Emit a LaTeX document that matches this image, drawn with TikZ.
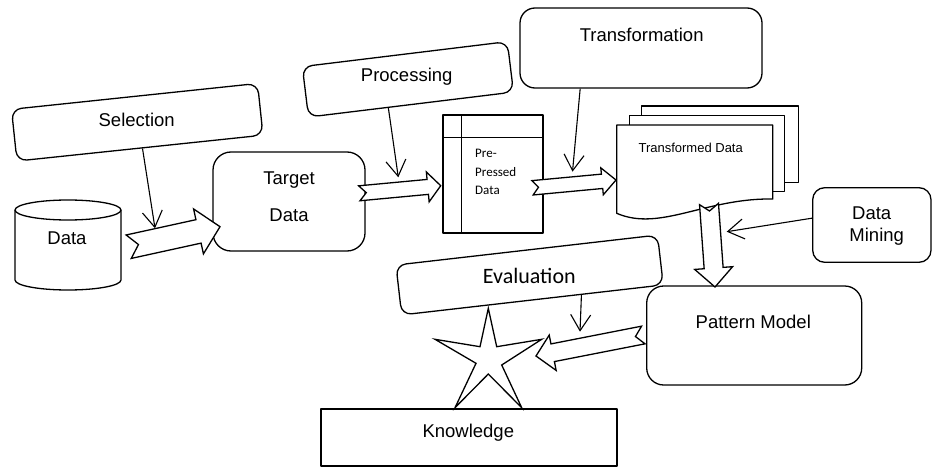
\documentclass[tikz,border=0pt]{standalone}
\usepackage{fontspec}
\setmainfont{Liberation Sans}
\newfontfamily\carlito{Carlito}
\usetikzlibrary{calc,arrows.meta}
\tikzset{
  ln/.style={line width=1.3pt, line join=round},
  rbox/.style={ln, draw, fill=white, rectangle, rounded corners=#1, inner sep=0pt},
  rbox/.default=15pt,
  sbox/.style={ln, draw, fill=white, rectangle, inner sep=0pt},
  lbl/.style={inner sep=0pt, text height=13.25pt, text depth=0pt, font=\fontsize{18.5}{22}\selectfont},
  smalllbl/.style={inner sep=0pt, text height=9.3pt, text depth=0pt, font=\fontsize{13}{15}\selectfont},
  cal/.style={inner sep=0pt, text height=8.37pt, text depth=0pt, font=\carlito\fontsize{13}{15}\selectfont},
  calbig/.style={inner sep=0pt, text height=14.17pt, text depth=0pt, font=\carlito\fontsize{22}{26}\selectfont},
  thinarr/.style={line width=1.1pt, -{Straight Barb[length=16pt,width=20pt,line width=1.1pt]}},
  blk/.style={line width=1.3pt, draw, fill=white, line join=miter},
}
% from, to, half shaft width, half head width, head length, notch depth
\newcommand\blockarrow[6]{%
  \coordinate (bac) at ($(#2)!#5!(#1)$);
  \draw[blk] ($(#1)!#3!90:(#2)$) -- ($(bac)!#3!-90:(#1)$) -- ($(bac)!#4!-90:(#1)$)
    -- (#2) -- ($(bac)!#4!90:(#1)$) -- ($(bac)!#3!90:(#1)$) -- ($(#1)!#3!-90:(#2)$)
    -- ($(#1)!#6!(#2)$) -- cycle;}
\begin{document}
\begin{tikzpicture}[x=1pt,y=-1pt]
\useasboundingbox (0,0) rectangle (933,468);

% ---- Data cylinder
\draw[ln, fill=white] (15,210) -- (15,280)
  arc[start angle=180, end angle=360, x radius=53pt, y radius=10pt] -- (121,210)
  arc[start angle=0, end angle=180, x radius=53pt, y radius=10pt] -- cycle;
\draw[ln] (15,210) arc[start angle=180, end angle=360, x radius=53pt, y radius=10pt];
\node[lbl] (data) at (67,238) {Data};

% ---- Selection
\node[rbox=10pt, rotate=6.0, minimum width=247.4pt, minimum height=52pt] (sel) at (137.25,122.25) {};
\node[lbl] (selT) at (136.7,120) {Selection};

% ---- Target Data
\node[rbox=18pt, minimum width=152pt, minimum height=99pt] (target) at (289,201.5) {};
\node[lbl] (targetT1) at (289,178) {Target};
\node[lbl] (targetT2) at (289,215) {Data};

% ---- Processing
\node[rbox=10pt, rotate=6.95, minimum width=206.5pt, minimum height=50.8pt] (proc) at (407.9,79.35) {};
\node[lbl] (procT) at (406.7,75) {Processing};

% ---- Pre-Pressed Data (internal storage)
\node[sbox, minimum width=100pt, minimum height=118pt] (pre) at (493,174) {};
\draw[ln] ([xshift=19.3pt]pre.north west) -- ([xshift=19.3pt]pre.south west);
\draw[ln] ([yshift=-23.3pt]pre.north west) -- ([yshift=-23.3pt]pre.north east);
\node[cal, anchor=west] (preT1) at (475,153.3) {Pre-};
\node[cal, anchor=west] (preT2) at (475,172) {Pressed};
\node[cal, anchor=west] (preT3) at (475,190.5) {Data};

% ---- Transformation
\node[rbox=15pt, minimum width=242pt, minimum height=80pt] (trans) at (641,48) {};
\node[lbl] (transT) at (641.7,35) {Transformation};

% ---- Transformed Data (multi document)
\draw[ln, fill=white] (641.7,106) rectangle (798.3,182.3);
\draw[ln, fill=white] (629.3,115.7) rectangle (784.3,191.7);
\draw[ln, fill=white] (616.7,125) -- (772.7,125) -- (772.7,199)
  .. controls (705,198) and (660,232) .. (616.7,213.3) -- cycle;
\node[smalllbl] (tdata) at (690.7,148.3) {Transformed Data};

% ---- Data Mining
\node[rbox=12pt, minimum width=118.3pt, minimum height=74.6pt] (mining) at (871.85,225) {};
\node[lbl] (miningT1) at (871.7,213.3) {Data};
\node[lbl] (miningT2) at (876.7,235) {Mining};

% ---- Pattern Model
\node[rbox=17pt, minimum width=215pt, minimum height=99pt] (pattern) at (754.2,335.5) {};
\node[lbl] (patternT) at (753.3,321.7) {Pattern Model};

% ---- Knowledge
\node[sbox, minimum width=296pt, minimum height=57pt] (know) at (469,437.5) {};
\node[lbl] (knowT) at (468.3,430.7) {Knowledge};

% ---- Star
\draw[ln, fill=white, line join=miter] (488.3,308.3) -- (496.7,346.7) -- (541.7,339.3) -- (501.7,365)
  -- (521.7,407.7) -- (488.3,374) -- (455,407.7) -- (476,363.3) -- (435,339.3)
  -- (480,346.7) -- cycle;

% ---- Evaluation
\node[rbox=10pt, rotate=6.54, minimum width=263.3pt, minimum height=50.2pt] (eval) at (529.6,275) {};
\node[calbig] (evalT) at (529.3,276.7) {Evaluation};

% ---- Block arrows
\coordinate (a1s) at (128.7,246.7); \coordinate (a1e) at (220,226.7);
\coordinate (a2s) at (359.3,193.3); \coordinate (a2e) at (440.7,185.7);
\coordinate (a3s) at (532.5,187.8); \coordinate (a3e) at (616,180);
\coordinate (a4s) at (709,204);     \coordinate (a4e) at (715,287);
\coordinate (a5s) at (643.3,335);   \coordinate (a5e) at (536,356);
\blockarrow{a1s}{a1e}{12pt}{23pt}{22pt}{10pt}
\blockarrow{a2s}{a2e}{7.5pt}{15pt}{13pt}{7pt}
\blockarrow{a3s}{a3e}{7.2pt}{13.5pt}{14pt}{6pt}
\blockarrow{a4s}{a4e}{9.5pt}{19pt}{19pt}{7pt}
\blockarrow{a5s}{a5e}{9pt}{18pt}{17pt}{8pt}

% ---- Thin arrows
\coordinate (selB) at (155,228.3);
\coordinate (procB) at (398.3,177.3);
\coordinate (transB) at (572.5,171.7);
\coordinate (miningB) at (726.7,231.7);
\coordinate (evalB) at (580,331.7);
\draw[thinarr] ($(sel.south west)!0.51!(sel.south east)$) -- (selB);
\draw[thinarr] ($(proc.south west)!0.39!(proc.south east)$) -- (procB);
\draw[thinarr] ($(trans.south west)!0.25!(trans.south east)$) -- (transB);
\draw[thinarr] ($(mining.north west)!0.41!(mining.south west)$) -- (miningB);
\draw[thinarr] ($(eval.south west)!0.686!(eval.south east)$) -- (evalB);
\end{tikzpicture}
\end{document}
